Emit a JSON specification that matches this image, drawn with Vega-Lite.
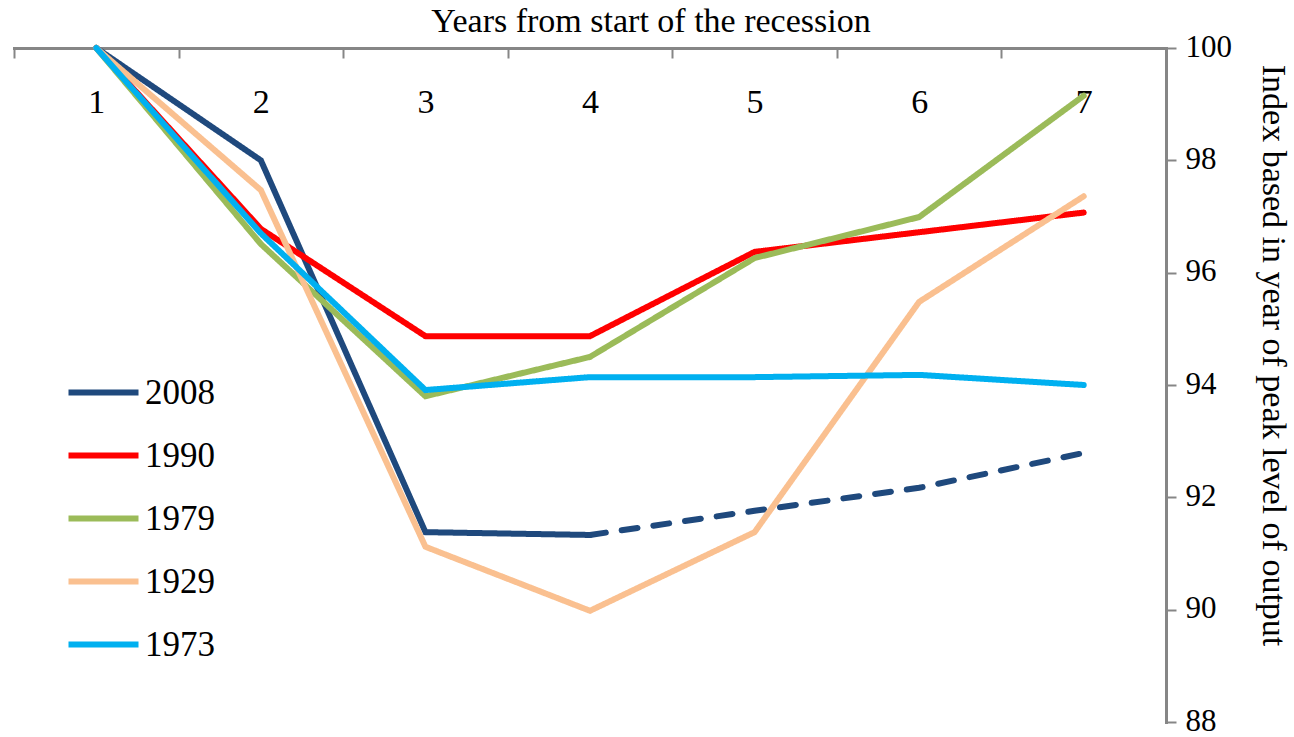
{
  "$schema": "https://vega.github.io/schema/vega-lite/v6.json",
  "width": 1152,
  "height": 674,
  "autosize": {"type": "none"},
  "padding": {"left": 14, "top": 48, "right": 128, "bottom": 15},
  "background": "white",
  "view": {"stroke": null},
  "config": {"font": "Liberation Serif"},
  "title": {"text": "Years from start of the recession", "font": "Liberation Serif", "fontSize": 34, "fontWeight": "normal", "color": "#000000", "anchor": "middle", "offset": -8, "dx": 61},
  "data": {"values": [
    {"x": 1, "series": "2008", "seg": "actual", "value": 100},
    {"x": 2, "series": "2008", "seg": "actual", "value": 98.0},
    {"x": 3, "series": "2008", "seg": "actual", "value": 91.38},
    {"x": 4, "series": "2008", "seg": "actual", "value": 91.33},
    {"x": 4, "series": "2008", "seg": "projected", "value": 91.33},
    {"x": 5, "series": "2008", "seg": "projected", "value": 91.76},
    {"x": 6, "series": "2008", "seg": "projected", "value": 92.17},
    {"x": 7, "series": "2008", "seg": "projected", "value": 92.79},
    {"x": 1, "series": "1990", "seg": "actual", "value": 100},
    {"x": 2, "series": "1990", "seg": "actual", "value": 96.78},
    {"x": 3, "series": "1990", "seg": "actual", "value": 94.87},
    {"x": 4, "series": "1990", "seg": "actual", "value": 94.87},
    {"x": 5, "series": "1990", "seg": "actual", "value": 96.37},
    {"x": 6, "series": "1990", "seg": "actual", "value": 96.72},
    {"x": 7, "series": "1990", "seg": "actual", "value": 97.07},
    {"x": 1, "series": "1979", "seg": "actual", "value": 100},
    {"x": 2, "series": "1979", "seg": "actual", "value": 96.51},
    {"x": 3, "series": "1979", "seg": "actual", "value": 93.8},
    {"x": 4, "series": "1979", "seg": "actual", "value": 94.5},
    {"x": 5, "series": "1979", "seg": "actual", "value": 96.26},
    {"x": 6, "series": "1979", "seg": "actual", "value": 96.99},
    {"x": 7, "series": "1979", "seg": "actual", "value": 99.15},
    {"x": 1, "series": "1929", "seg": "actual", "value": 100},
    {"x": 2, "series": "1929", "seg": "actual", "value": 97.47},
    {"x": 3, "series": "1929", "seg": "actual", "value": 91.12},
    {"x": 4, "series": "1929", "seg": "actual", "value": 89.98},
    {"x": 5, "series": "1929", "seg": "actual", "value": 91.38},
    {"x": 6, "series": "1929", "seg": "actual", "value": 95.48},
    {"x": 7, "series": "1929", "seg": "actual", "value": 97.36},
    {"x": 1, "series": "1973", "seg": "actual", "value": 100},
    {"x": 2, "series": "1973", "seg": "actual", "value": 96.7},
    {"x": 3, "series": "1973", "seg": "actual", "value": 93.91},
    {"x": 4, "series": "1973", "seg": "actual", "value": 94.14},
    {"x": 5, "series": "1973", "seg": "actual", "value": 94.14},
    {"x": 6, "series": "1973", "seg": "actual", "value": 94.18},
    {"x": 7, "series": "1973", "seg": "actual", "value": 94.0}
  ]},
  "mark": {"type": "line", "strokeWidth": 6, "strokeCap": "round", "strokeJoin": "miter"},
  "encoding": {
    "x": {
      "field": "x", "type": "ordinal",
      "scale": {"type": "band", "paddingInner": 0, "paddingOuter": 0},
      "bandPosition": 0.5,
      "axis": {
        "orient": "bottom", "offset": -674, "title": null,
        "tickBand": "extent", "labelAngle": 0,
        "labelFont": "Liberation Serif", "labelFontSize": 34, "labelColor": "#000000",
        "labelPadding": 27, "labelBaseline": "top",
        "domainColor": "#868686", "domainWidth": 3, "domainCap": "square",
        "tickColor": "#868686", "tickWidth": 2, "tickSize": 10
      }
    },
    "y": {
      "field": "value", "type": "quantitative",
      "scale": {"domain": [88, 100], "nice": false, "zero": false},
      "axis": {
        "orient": "right", "values": [88, 90, 92, 94, 96, 98, 100],
        "title": "Index based in year of peak level of output",
        "titleFont": "Liberation Serif", "titleFontSize": 34, "titleFontWeight": "normal", "titleColor": "#000000",
        "titlePadding": 24, "titleY": 307,
        "labelFont": "Liberation Serif", "labelFontSize": 31, "labelColor": "#000000", "labelPadding": 9, "labelOffset": -1,
        "grid": false,
        "domainColor": "#868686", "domainWidth": 3, "domainCap": "square",
        "tickColor": "#868686", "tickWidth": 2, "tickSize": 10
      }
    },
    "color": {
      "field": "series", "type": "nominal",
      "scale": {"domain": ["2008", "1990", "1979", "1929", "1973"], "range": ["#1F497D", "#FF0000", "#9BBB59", "#FAC090", "#00B0F0"]},
      "legend": {
        "orient": "none", "legendX": 69, "legendY": 324, "title": null,
        "symbolType": "M-2,0H2", "symbolSize": 1225, "symbolStrokeWidth": 6,
        "labelFont": "Liberation Serif", "labelFontSize": 35, "labelColor": "#000000", "labelOffset": 21,
        "rowPadding": 24, "padding": 0
      }
    },
    "strokeDash": {
      "field": "seg", "type": "nominal",
      "scale": {"domain": ["actual", "projected"], "range": [[1, 0], [16, 16]]},
      "legend": null
    }
  }
}
